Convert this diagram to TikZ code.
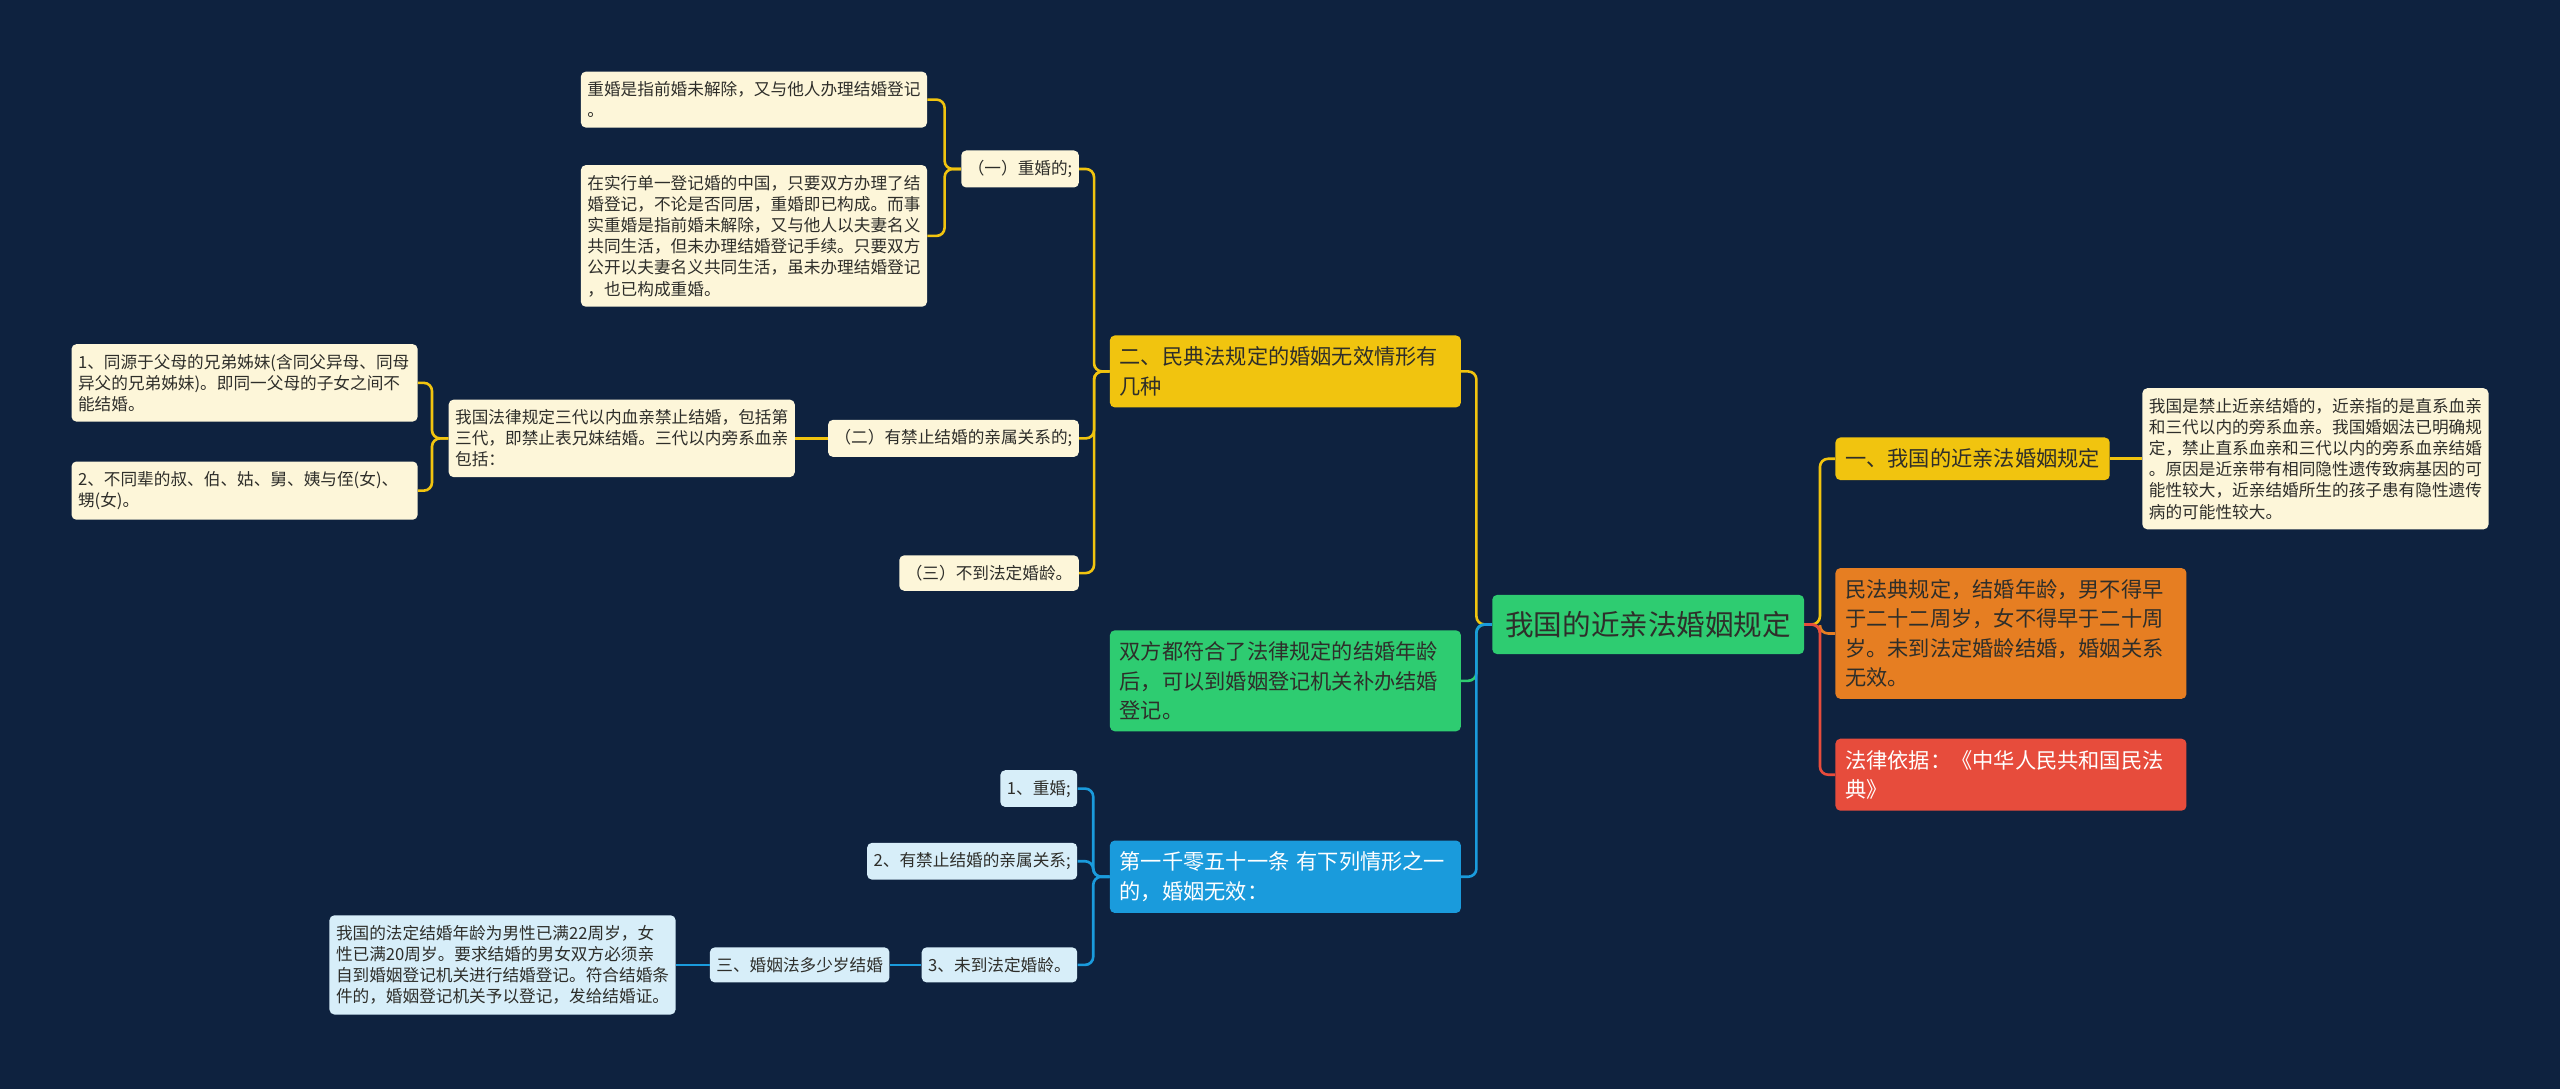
\documentclass[tikz,border=0pt]{standalone}
\usepackage{fontspec}
\newfontfamily\cjk{Noto Sans CJK SC}
\usepackage{tikz}
\definecolor{mybg}{HTML}{0E223F}
\definecolor{myyellow}{HTML}{F1C40F}
\definecolor{mygreen}{HTML}{2ECC71}
\definecolor{myorange}{HTML}{E67E22}
\definecolor{myred}{HTML}{E74C3C}
\definecolor{myblue}{HTML}{1A9BDC}
\definecolor{mycream}{HTML}{FDF6D9}
\definecolor{mylight}{HTML}{D7EEF9}
\definecolor{myink}{HTML}{2E2E2A}
\tikzset{
  box/.style={rounded corners=3pt, align=left, text=myink},
  leaf/.style={box, fill=mycream, inner xsep=4pt, inner ysep=6pt,
    font=\cjk\fontsize{10.2}{13}\selectfont},
  leafw/.style={leaf, text width=204pt},
  bleaf/.style={leaf, fill=mylight},
  bleafw/.style={leafw, fill=mylight},
  mainbox/.style={box, inner xsep=6pt, inner ysep=7pt,
    font=\cjk\fontsize{13}{18}\selectfont},
  mainw/.style={mainbox, text width=203pt},
  rootbox/.style={box, fill=mygreen, inner xsep=8pt, inner ysep=10pt,
    font=\cjk\fontsize{17.5}{20}\selectfont},
  link/.style={line width=1.6pt, rounded corners=5pt}
}

\begin{document}
\begin{tikzpicture}[x=1pt, y=-1pt]
    \fill [mybg] (0, 0) rectangle (1568, 667);

    % centre
    \node [rootbox] (root) at (1009.5, 382.5) {我国的近亲法婚姻规定};

    % right branch
    \node [mainbox, fill=myyellow, anchor=west] (r1) at (1124, 281) {一、我国的近亲法婚姻规定};
    \node [leafw, anchor=west] (r1a) at (1312, 281) {我国是禁止近亲结婚的，近亲指的是直系血亲\\和三代以内的旁系血亲。我国婚姻法已明确规\\定，禁止直系血亲和三代以内的旁系血亲结婚\\。原因是近亲带有相同隐性遗传致病基因的可\\能性较大，近亲结婚所生的孩子患有隐性遗传\\病的可能性较大。};
    \node [mainw, fill=myorange, anchor=west] (r2) at (1124, 388) {民法典规定，结婚年龄，男不得早\\于二十二周岁，女不得早于二十周\\岁。未到法定婚龄结婚，婚姻关系\\无效。};
    \node [mainw, fill=myred, text=white, anchor=west] (r3) at (1124, 474.5) {法律依据：《中华人民共和国民法\\典》};

    \draw [link, myyellow] (root.east) -- ++(9.5, 0) |- (r1.west);
    \draw [link, myorange] (root.east) -- ++(9.5, 0) |- (r2.west);
    \draw [link, myred] (root.east) -- ++(9.5, 0) |- (r3.west);
    \draw [link, myyellow] (r1.east) -- (r1a.west);

    % left branch
    \node [mainw, fill=myyellow, anchor=east] (l1) at (895, 227.5) {二、民典法规定的婚姻无效情形有\\几种};
    \node [mainw, fill=mygreen, anchor=east] (l2) at (895, 417) {双方都符合了法律规定的结婚年龄\\后，可以到婚姻登记机关补办结婚\\登记。};
    \node [mainw, fill=myblue, text=white, anchor=east] (l3) at (895, 537) {第一千零五十一条 有下列情形之一\\的，婚姻无效：};

    \draw [link, myyellow] (root.west) -- ++(-9.5, 0) |- (l1.east);
    \draw [link, mygreen] (root.west) -- ++(-9.5, 0) |- (l2.east);
    \draw [link, myblue] (root.west) -- ++(-9.5, 0) |- (l3.east);

    % l1 children
    \node [leaf, anchor=east] (l1a) at (661, 103.5) {（一）重婚的;};
    \node [leaf, anchor=east] (l1b) at (661, 268.5) {（二）有禁止结婚的亲属关系的;};
    \node [leaf, anchor=east] (l1c) at (661, 351) {（三）不到法定婚龄。};
    \foreach \c in {l1a, l1b, l1c}
        \draw [link, myyellow] (l1.west) -- ++(-9.5, 0) |- (\c.east);

    \node [leafw, anchor=east] (l1a1) at (568, 61) {重婚是指前婚未解除，又与他人办理结婚登记\\。};
    \node [leafw, anchor=east] (l1a2) at (568, 144.5) {在实行单一登记婚的中国，只要双方办理了结\\婚登记，不论是否同居，重婚即已构成。而事\\实重婚是指前婚未解除，又与他人以夫妻名义\\共同生活，但未办理结婚登记手续。只要双方\\公开以夫妻名义共同生活，虽未办理结婚登记\\，也已构成重婚。};
    \foreach \c in {l1a1, l1a2}
        \draw [link, myyellow] (l1a.west) -- ++(-10, 0) |- (\c.east);

    \node [leafw, anchor=east] (l1b1) at (487, 268.5) {我国法律规定三代以内血亲禁止结婚，包括第\\三代，即禁止表兄妹结婚。三代以内旁系血亲\\包括：};
    \draw [link, myyellow] (l1b.west) -- (l1b1.east);

    \node [leafw, anchor=east] (l1b1a) at (256, 234.5) {1、同源于父母的兄弟姊妹(含同父异母、同母\\异父的兄弟姊妹)。即同一父母的子女之间不\\能结婚。};
    \node [leafw, anchor=east] (l1b1b) at (256, 300.5) {2、不同辈的叔、伯、姑、舅、姨与侄(女)、\\甥(女)。};
    \foreach \c in {l1b1a, l1b1b}
        \draw [link, myyellow] (l1b1.west) -- ++(-10, 0) |- (\c.east);

    % l3 children
    \node [bleaf, anchor=east] (l3a) at (660, 483) {1、重婚;};
    \node [bleaf, anchor=east] (l3b) at (660, 527.5) {2、有禁止结婚的亲属关系;};
    \node [bleaf, anchor=east] (l3c) at (660, 591) {3、未到法定婚龄。};
    \foreach \c in {l3a, l3b, l3c}
        \draw [link, myblue] (l3.west) -- ++(-10, 0) |- (\c.east);

    \node [bleaf, anchor=east] (l3c1) at (545, 591) {三、婚姻法多少岁结婚};
    \node [bleafw, anchor=east] (l3c1a) at (414, 591) {我国的法定结婚年龄为男性已满22周岁，女\\性已满20周岁。要求结婚的男女双方必须亲\\自到婚姻登记机关进行结婚登记。符合结婚条\\件的，婚姻登记机关予以登记，发给结婚证。};
    \draw [link, myblue] (l3c.west) -- (l3c1.east);
    \draw [link, myblue] (l3c1.west) -- (l3c1a.east);
\end{tikzpicture}
\end{document}
